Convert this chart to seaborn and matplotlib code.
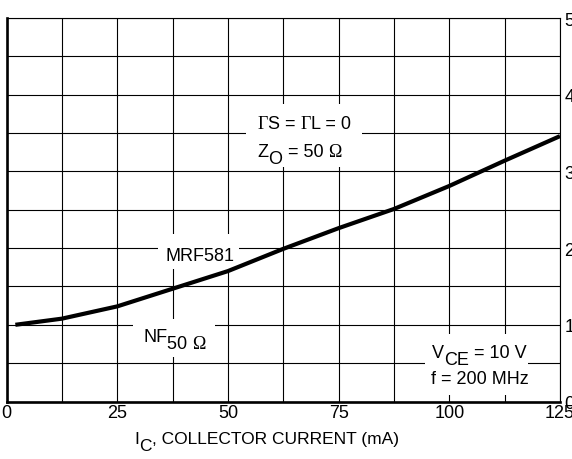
import matplotlib
matplotlib.use("Agg")
import matplotlib.pyplot as plt
import pandas as pd
import seaborn as sns
from matplotlib import font_manager
from matplotlib.patches import Rectangle
from matplotlib.ticker import FixedLocator, MultipleLocator
from matplotlib.offsetbox import TextArea, HPacker, VPacker, DrawingArea, AnnotationBbox

# noise figure vs collector current
ic_ma = [2, 12.5, 25, 37.5, 50, 62.5, 75, 87.5, 100, 112.5, 125]
nf_db = [1.00, 1.08, 1.24, 1.47, 1.70, 1.99, 2.26, 2.51, 2.81, 3.14, 3.46]

x_ticks = [0, 25, 50, 75, 100, 125]
y_ticks = [0, 1, 2, 3, 4, 5]

sns.set_theme(style="white")

# the datasheet uses a condensed Helvetica; use the narrow Liberation cut if present
installed = {f.name for f in font_manager.fontManager.ttflist}
if "Liberation Sans Narrow" in installed:
    SANS, FS, TICK_FS, LABEL_FS = "Liberation Sans Narrow", 15, 15, 14
else:
    SANS, FS, TICK_FS, LABEL_FS = "Liberation Sans", 13, 13, 12.5
SERIF = "Liberation Serif"
plt.rcParams["font.family"] = [SANS, "DejaVu Sans"]

DROP = 5  # full size "subscripts" sit this far below the baseline (pt)


def rich_line(parts, size):
    kids = []
    for s, sub, serif in parts:
        fam = [SERIF, "DejaVu Serif"] if serif else [SANS, "DejaVu Sans"]
        ta = TextArea(s, textprops=dict(fontsize=size, color="black", family=fam))
        if sub:
            ta = VPacker(children=[DrawingArea(0, DROP), ta], pad=0, sep=0)
        kids.append(ta)
    return HPacker(children=kids, align="top", pad=0, sep=0)


def place(ax, lines, xy, align="left", sep=0, coords="data", size=FS):
    box = VPacker(children=[rich_line(l, size) for l in lines], align=align, pad=0, sep=sep)
    ab = AnnotationBbox(box, xy, xycoords=coords, frameon=False,
                        box_alignment=(0.5, 0.5), annotation_clip=False)
    ax.add_artist(ab)


df = pd.DataFrame({"ic": ic_ma, "nf": nf_db})

fig = plt.figure(figsize=(5.72, 4.6), dpi=100)
ax = fig.add_axes([6.5 / 572, 1 - 402.5 / 460, 553.5 / 572, 383.5 / 460])

sns.lineplot(data=df, x="ic", y="nf", ax=ax, color="black", lw=3,
             solid_capstyle="butt", zorder=3)

ax.set_xlim(0, 125)
ax.set_ylim(0, 5)
ax.xaxis.set_major_locator(FixedLocator(x_ticks))
ax.xaxis.set_minor_locator(MultipleLocator(12.5))
ax.yaxis.set_major_locator(FixedLocator(y_ticks))
ax.yaxis.set_minor_locator(MultipleLocator(0.5))
ax.set_xticklabels([str(t) for t in x_ticks])
ax.set_yticklabels([str(t) for t in y_ticks])
ax.yaxis.tick_right()
ax.tick_params(which="both", length=0, labelsize=TICK_FS, colors="black")
ax.tick_params(axis="x", pad=2)
ax.tick_params(axis="y", pad=3)
ax.set_xlabel("")
ax.set_ylabel("")

ax.set_axisbelow(True)
ax.grid(True, which="both", color="black", lw=0.8)

for side in ["left", "bottom"]:
    ax.spines[side].set_linewidth(1.9)
for side in ["top", "right"]:
    ax.spines[side].set_linewidth(0.8)
for sp in ax.spines.values():
    sp.set_color("black")

# white label patches that break the grid (x0, x1, y0, y1)
boxes = [(54.2, 80.2, 3.06, 3.88), (34.3, 52.4, 1.73, 2.18),
         (28.6, 47.1, 0.58, 1.08), (94.5, 117.8, 0.08, 0.88)]
for x0, x1, y0, y1 in boxes:
    ax.add_patch(Rectangle((x0, y0), x1 - x0, y1 - y0, fc="white", ec="none", zorder=1.5))

place(ax, [[("\u0393", False, True), ("S = ", False, False),
            ("\u0393", False, True), ("L = 0", False, False)],
           [("Z", False, False), ("O", True, False), (" = 50 ", False, False),
            ("\u03a9", False, True)]],
      (67.2, 3.40), align="left", sep=8)
place(ax, [[("MRF581", False, False)]], (43.8, 1.90))
place(ax, [[("NF", False, False), ("50 ", True, False), ("\u03a9", True, True)]],
      (37.9, 0.80))
place(ax, [[("V", False, False), ("CE", True, False), (" = 10 V", False, False)],
           [("f = 200 MHz", False, False)]],
      (106.8, 0.47), align="center", sep=1.5)

place(ax, [[("I", False, False), ("C", True, False),
            (", COLLECTOR CURRENT (mA)", False, False)]],
      (0.47, -0.105), coords="axes fraction", size=LABEL_FS)

fig.savefig("out.png", dpi=100)
